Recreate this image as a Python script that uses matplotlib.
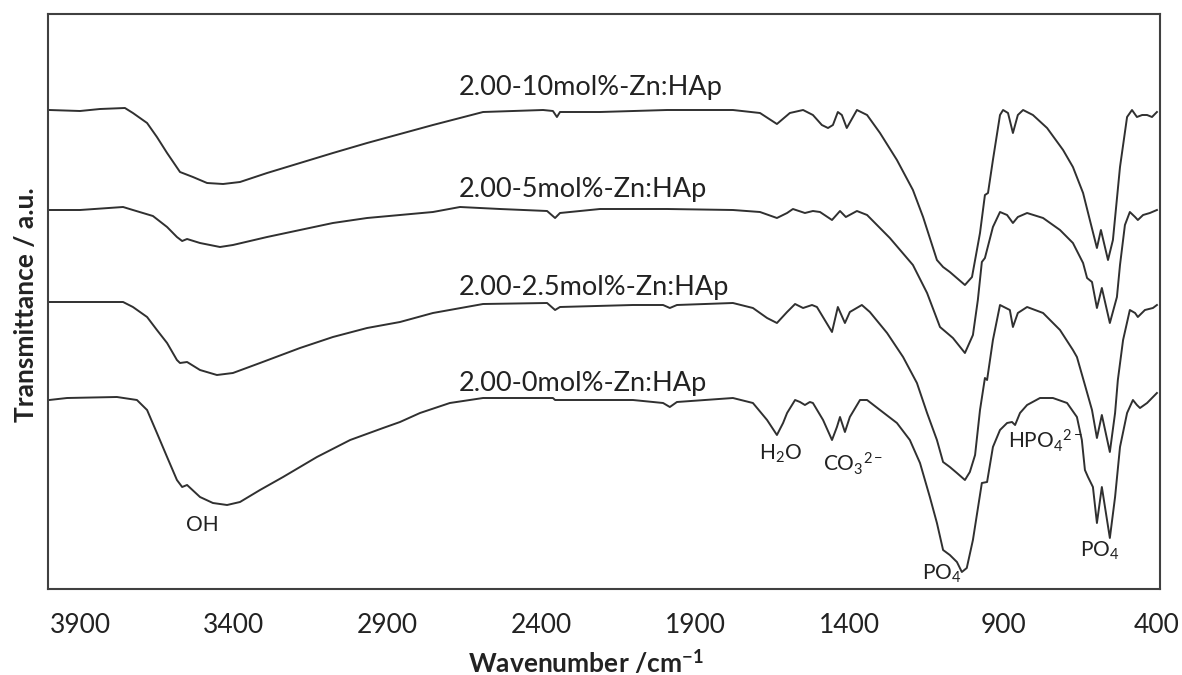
import matplotlib
matplotlib.use("Agg")
import matplotlib.pyplot as plt

# ---------------- data (wavenumber cm-1, transmittance a.u.) ----------------
wn_10 = [4000, 3900, 3835, 3754, 3728, 3682, 3650, 3617, 3575, 3533, 3487, 3435, 3380, 3292, 3185,
         3078, 2967, 2860, 2753, 2590, 2395, 2363, 2350, 2340, 2210, 1992, 1778, 1690, 1635, 1593,
         1550, 1518, 1489, 1469, 1453, 1437, 1424, 1408, 1375, 1342, 1300, 1245, 1193, 1160, 1115,
         1095, 1073, 1024, 1001, 975, 959, 949, 933, 910, 900, 884, 868, 852, 835, 803, 757, 705,
         673, 640, 618, 595, 582, 559, 543, 520, 497, 481, 465, 448, 432, 416, 400]
t_10 = [95.8, 95.6, 96.0, 96.2, 95.2, 93.2, 90.4, 87.2, 83.4, 82.4, 81.2, 81.0, 81.4, 83.2, 85.2,
        87.2, 89.2, 91.0, 92.8, 95.4, 95.8, 95.6, 94.4, 95.4, 95.4, 95.8, 95.8, 95.2, 93.0, 95.2,
        95.8, 94.8, 92.8, 92.2, 92.8, 95.4, 94.8, 92.2, 95.8, 94.8, 91.2, 85.8, 79.8, 74.4, 65.8,
        64.4, 63.4, 60.8, 62.4, 71.2, 78.8, 79.2, 85.8, 94.8, 95.8, 95.2, 91.2, 94.8, 95.8, 94.8, 92.2, 87.8,
        84.4, 79.2, 73.8, 68.2, 71.8, 65.8, 69.8, 84.4, 94.4, 95.8, 94.4, 94.8, 94.8, 94.4, 95.4]

wn_5 = [4000, 3900, 3760, 3728, 3663, 3617, 3585, 3568, 3552, 3510, 3445, 3403, 3292, 3185, 3078,
        2967, 2860, 2753, 2665, 2535, 2382, 2356, 2340, 2210, 1992, 1778, 1690, 1635, 1602, 1583,
        1544, 1518, 1495, 1456, 1430, 1411, 1375, 1342, 1268, 1193, 1147, 1105, 1082, 1063, 1024,
        998, 982, 969, 959, 933, 910, 887, 868, 852, 822, 770, 715, 673, 640, 627, 611, 595, 579,
        553, 530, 520, 504, 488, 471, 462, 445, 423, 400]
t_5 = [75.8, 75.8, 76.4, 75.8, 74.6, 72.4, 70.4, 69.6, 70.0, 69.2, 68.4, 68.8, 70.4, 71.8, 73.2,
       74.2, 74.8, 75.4, 76.4, 76.0, 75.6, 74.2, 75.2, 76.0, 76.0, 75.8, 75.4, 74.2, 75.2, 76.0,
       75.2, 75.6, 75.4, 73.8, 75.6, 74.4, 75.6, 74.8, 70.2, 64.8, 59.2, 52.4, 51.2, 50.2, 47.2,
       50.8, 57.8, 65.4, 66.2, 72.4, 75.4, 74.8, 73.2, 74.4, 75.2, 74.2, 71.8, 69.2, 65.2, 62.2, 61.4, 56.2, 60.2,
       53.2, 58.4, 64.8, 72.8, 75.4, 74.4, 73.8, 74.8, 75.2, 75.8]

wn_25 = [4000, 3760, 3728, 3682, 3650, 3617, 3585, 3575, 3552, 3510, 3455, 3403, 3315, 3185, 3078,
         2967, 2860, 2753, 2590, 2382, 2356, 2340, 2103, 2005, 1983, 1960, 1778, 1713, 1667, 1635,
         1602, 1576, 1550, 1521, 1505, 1456, 1437, 1414, 1398, 1359, 1333, 1277, 1225, 1180, 1147,
         1115, 1095, 1073, 1050, 1024, 1008, 991, 975, 959, 952, 933, 910, 878, 868, 852, 822, 770,
         715, 673, 660, 634, 611, 595, 579, 553, 536, 527, 510, 488, 471, 462, 439, 413, 400]
t_25 = [57.4, 57.4, 56.4, 54.4, 51.8, 49.2, 45.8, 45.2, 45.4, 43.8, 42.8, 43.2, 45.2, 48.2, 50.4,
        52.2, 53.4, 55.2, 57.0, 57.2, 55.8, 56.4, 56.8, 56.8, 56.2, 56.8, 57.2, 56.2, 54.2, 53.2,
        55.4, 57.0, 56.2, 56.8, 56.4, 51.4, 56.4, 53.2, 55.4, 56.8, 55.4, 51.2, 46.4, 41.2, 35.2,
        29.8, 25.4, 24.4, 23.2, 21.8, 23.4, 26.8, 35.8, 42.2, 41.8, 49.8, 56.8, 55.8, 52.4, 55.2, 56.4, 55.2,
        51.8, 47.8, 46.4, 40.8, 35.8, 30.2, 34.8, 27.4, 35.2, 41.8, 49.8, 55.8, 55.2, 54.4, 55.8, 56.2, 56.8]

wn_0 = [4000, 3942, 3780, 3715, 3682, 3650, 3617, 3585, 3568, 3552, 3510, 3468, 3422, 3380, 3315,
        3240, 3130, 3022, 2915, 2860, 2795, 2698, 2590, 2363, 2356, 2103, 2005, 1983, 1960, 1778,
        1713, 1667, 1635, 1615, 1602, 1576, 1560, 1544, 1528, 1518, 1485, 1456, 1440, 1430, 1414,
        1398, 1365, 1342, 1300, 1245, 1203, 1170, 1138, 1115, 1095, 1073, 1050, 1034, 1018, 998,
        969, 952, 933, 910, 887, 871, 861, 845, 822, 780, 738, 692, 660, 644, 634, 624, 608, 595,
        579, 553, 536, 520, 497, 478, 465, 455, 432, 416, 400]
t_0 = [37.8, 38.2, 38.4, 37.8, 35.8, 31.2, 26.4, 21.8, 20.4, 20.8, 18.4, 17.2, 16.8, 17.4, 19.8,
       22.4, 26.4, 29.8, 32.2, 33.4, 35.2, 37.2, 38.2, 38.2, 37.8, 37.8, 37.2, 36.4, 37.4, 38.2,
       37.2, 33.8, 30.8, 33.2, 35.2, 37.8, 37.4, 36.8, 37.4, 37.2, 33.8, 29.8, 32.4, 34.4, 31.4,
       34.4, 37.8, 37.8, 35.8, 33.2, 29.8, 25.2, 18.4, 13.2, 7.8, 6.8, 5.4, 3.4, 4.2, 9.8,
       21.2, 21.4, 28.4, 31.8, 33.2, 33.4, 32.8, 35.2, 36.8, 38.2, 38.2, 37.2, 34.4, 29.8, 23.8, 22.4, 20.4, 13.2,
       20.4, 10.2, 18.4, 28.4, 35.2, 37.8, 36.8, 36.2, 37.2, 38.2, 39.2]

series_labels = ["2.00-10mol%-Zn:HAp", "2.00-5mol%-Zn:HAp", "2.00-2.5mol%-Zn:HAp", "2.00-0mol%-Zn:HAp"]
series_label_pos = [(2670, 100.2), (2670, 79.8), (2670, 60.4), (2670, 41.2)]

band_labels = ["OH", r"H$_\mathregular{2}$O", r"CO$_\mathregular{3}$$^\mathregular{2-}$",
               r"HPO$_\mathregular{4}$$^\mathregular{2-}$", r"PO$_\mathregular{4}$", r"PO$_\mathregular{4}$"]
band_label_pos = [(3504, 12.8), (1625, 27.0), (1388, 25.0), (764, 29.6), (1099, 3.0), (585, 7.6)]

xticks = [3900, 3400, 2900, 2400, 1900, 1400, 900, 400]

# ---------------- plotting ----------------
plt.rcParams['font.family'] = ['Lato', 'DejaVu Sans']
plt.rcParams['mathtext.fontset'] = 'custom'
plt.rcParams['mathtext.rm'] = 'Lato'
plt.rcParams['mathtext.it'] = 'Lato:italic'
plt.rcParams['mathtext.bf'] = 'Lato:bold'

fig = plt.figure(figsize=(11.82, 6.75), dpi=100)
ax = fig.add_axes([48 / 1182, 86 / 675, 1112 / 1182, 575 / 675])

line_color = "#303030"
text_color = "#222222"
for wn, t in [(wn_10, t_10), (wn_5, t_5), (wn_25, t_25), (wn_0, t_0)]:
    ax.plot(wn, t, color=line_color, lw=1.4)

for lab, (x, y) in zip(series_labels, series_label_pos):
    ax.text(x, y, lab, fontsize=19.5, color=text_color, ha="left", va="center")

for lab, (x, y) in zip(band_labels, band_label_pos):
    ax.text(x, y, lab, fontsize=15, color=text_color, ha="center", va="center")

ax.set_xlim(4004, 390)
ax.set_ylim(0, 115)
ax.set_xticks(xticks)
ax.set_xticklabels([str(v) for v in xticks], fontsize=19, color=text_color)
ax.set_yticks([])
ax.tick_params(axis="x", length=0, pad=17)
for sp in ax.spines.values():
    sp.set_color("#404040")
    sp.set_linewidth(1.5)

ax.set_xlabel(r"Wavenumber /cm$^{\mathbf{-1}}$", fontsize=19, fontweight="bold", color=text_color)
ax.xaxis.set_label_coords((586 - 48) / 1112, (589 - 662) / 575)
ax.xaxis.label.set_verticalalignment("center")
ax.set_ylabel("Transmittance / a.u.", fontsize=19, fontweight="bold", color=text_color)
ax.yaxis.set_label_coords((26 - 48) / 1112, (589 - 305) / 575)
ax.yaxis.label.set_verticalalignment("center")

fig.savefig("out.png", dpi=100)
